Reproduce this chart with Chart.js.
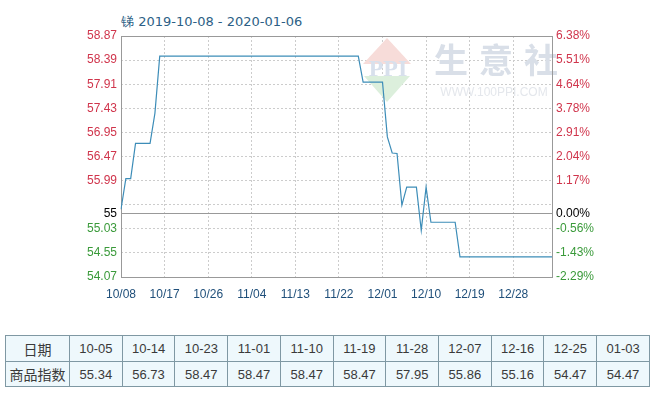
<!DOCTYPE html>
<html>
<head>
<meta charset="utf-8">
<script src="https://cdn.jsdelivr.net/npm/chart.js@4.4.1/dist/chart.umd.min.js"></script>
<style>
  body { margin: 0; background: #fff; width: 659px; height: 398px; position: relative; overflow: hidden; }
  #title { position: absolute; left: 121px; top: 13px; font: 13px "DejaVu Sans", sans-serif; color: #2d5f86; white-space: nowrap; }
  #myChart { position: absolute; left: 0; top: 0; }
  #tbl { position: absolute; left: 5px; top: 335px; width: 645px; border-collapse: collapse; border: 1px solid #333; background: #eef8fc; table-layout: fixed; }
  #tbl td { border: 1px solid #7f98a3; text-align: center; color: #3a3a3a; font: 13px "Liberation Sans", sans-serif; padding: 0; }
  #tbl tr:first-child td { height: 25px; }
  #tbl tr:last-child td { height: 24px; }
  #tbl td.head { font: 14px "Noto Sans CJK SC", sans-serif; width: 63px; }
</style>
</head>
<body>
<div id="title">锑 2019-10-08 - 2020-01-06</div>
<canvas id="myChart" width="659" height="320"></canvas>
<table id="tbl">
  <tr id="row-dates"><td class="head">日期</td></tr>
  <tr id="row-values"><td class="head">商品指数</td></tr>
</table>
<script>
// daily categories 10/08 - 01/05
const days = [
  "10/08","10/09","10/10","10/11","10/12","10/13","10/14","10/15","10/16","10/17","10/18","10/19",
  "10/20","10/21","10/22","10/23","10/24","10/25","10/26","10/27","10/28","10/29","10/30","10/31",
  "11/01","11/02","11/03","11/04","11/05","11/06","11/07","11/08","11/09","11/10","11/11","11/12",
  "11/13","11/14","11/15","11/16","11/17","11/18","11/19","11/20","11/21","11/22","11/23","11/24",
  "11/25","11/26","11/27","11/28","11/29","11/30",
  "12/01","12/02","12/03","12/04","12/05","12/06","12/07","12/08","12/09","12/10","12/11","12/12",
  "12/13","12/14","12/15","12/16","12/17","12/18","12/19","12/20","12/21","12/22","12/23","12/24",
  "12/25","12/26","12/27","12/28","12/29","12/30","12/31",
  "01/01","01/02","01/03","01/04","01/05"
];

// index values
const octValues = [55.42, 56.03, 56.03, 56.73, 56.73, 56.73, 56.73, 57.33, 58.47, 58.47, 58.47, 58.47,
  58.47, 58.47, 58.47, 58.47, 58.47, 58.47, 58.47, 58.47, 58.47, 58.47, 58.47, 58.47];
const novValues = [58.47, 58.47, 58.47, 58.47, 58.47, 58.47, 58.47, 58.47, 58.47, 58.47, 58.47, 58.47,
  58.47, 58.47, 58.47, 58.47, 58.47, 58.47, 58.47, 58.47, 58.47, 58.47, 58.47, 58.47, 58.47, 58.47,
  57.95, 57.95, 57.95, 57.95];
const decValues = [57.95, 56.86, 56.54, 56.53, 55.50, 55.86, 55.86, 55.86, 55.00, 55.86, 55.16, 55.16,
  55.16, 55.16, 55.16, 55.16, 54.47, 54.47, 54.47, 54.47, 54.47, 54.47, 54.47, 54.47, 54.47, 54.47,
  54.47, 54.47, 54.47, 54.47, 54.47];
const janValues = [54.47, 54.47, 54.47, 54.47, 54.47];
const values = octValues.concat(novValues, decValues, janValues);

// y axis ticks, base value for the % axis
const tickVals = [54.07, 54.55, 55.03, 55.34, 55.51, 55.99, 56.47, 56.95, 57.43, 57.91, 58.39, 58.87];
const baseValue = 55.34;
const hiddenTick = 55.51;

// table under the chart
const tableDates = ["10-05", "10-14", "10-23", "11-01", "11-10", "11-19", "11-28", "12-07", "12-16", "12-25", "01-03"];
const tableValues = ["55.34", "56.73", "58.47", "58.47", "58.47", "58.47", "57.95", "55.86", "55.16", "54.47", "54.47"];

let rowDates = document.getElementById("row-dates");
let rowValues = document.getElementById("row-values");
for (let i = 0; i < tableDates.length; i++) {
  let td1 = document.createElement("td");
  let td2 = document.createElement("td");
  td1.textContent = tableDates[i];
  td2.textContent = tableValues[i];
  rowDates.appendChild(td1);
  rowValues.appendChild(td2);
}

function labelColor(v) {
  if (v === baseValue) return "#000";
  return v > baseValue ? "#d0354c" : "#3a9a3a";
}

function setTicks(scale) {
  scale.ticks = tickVals.map((v) => ({ value: v }));
}

// watermark + frame
const backPlugin = {
  id: "back",
  beforeDatasetsDraw(chart) {
    const c = chart.ctx;
    const a = chart.chartArea;
    c.save();
    // diamond logo
    c.fillStyle = "#f7dcd9";
    c.beginPath();
    c.moveTo(387, 38);
    c.lineTo(411, 64);
    c.lineTo(363, 64);
    c.closePath();
    c.fill();
    c.fillStyle = "#dcefdc";
    c.beginPath();
    c.moveTo(364, 76);
    c.lineTo(410, 76);
    c.lineTo(387, 102);
    c.closePath();
    c.fill();
    c.fillStyle = "#d8e0ec";
    c.font = "bold 24px 'Liberation Serif', serif";
    c.textAlign = "center";
    c.textBaseline = "middle";
    c.fillText("PPI", 388, 70);
    // 生意社
    c.fillStyle = "#d9dfe8";
    c.font = "bold 34px 'Noto Sans CJK SC', sans-serif";
    c.fillText("生", 451, 60);
    c.fillText("意", 496, 60);
    c.fillText("社", 541, 60);
    c.fillStyle = "#e4e7ec";
    c.font = "12px 'Liberation Sans', sans-serif";
    c.fillText("WWW.100PPI.COM", 494, 93);
    // frame
    c.strokeStyle = "#999";
    c.lineWidth = 1;
    c.strokeRect(Math.round(a.left) + 0.5, Math.round(a.top) + 0.5, Math.round(a.right - a.left), Math.round(a.bottom - a.top));
    c.restore();
  },
};

new Chart("myChart", {
  type: "line",
  data: {
    labels: days,
    datasets: [
      {
        data: values,
        borderColor: "#3d8db8",
        borderWidth: 1.2,
        pointRadius: 0,
        tension: 0,
        fill: false,
      },
    ],
  },
  options: {
    responsive: false,
    animation: false,
    layout: { padding: { top: 36, left: 0, right: 0, bottom: 0 } },
    plugins: { legend: { display: false }, tooltip: { enabled: false } },
    scales: {
      x: {
        afterFit: (s) => { s.height = 43; },
        grid: { color: "#cccccc", drawTicks: false },
        border: { display: false, dash: [2, 2] },
        ticks: {
          autoSkip: false,
          maxRotation: 0,
          padding: 10,
          color: "#1f4f7a",
          font: { family: "Liberation Sans", size: 12 },
          callback: function (val, index) {
            return index % 9 === 0 ? days[index] : null;
          },
        },
      },
      y: {
        min: 54.07,
        max: 58.87,
        afterBuildTicks: setTicks,
        afterFit: (s) => { s.width = 121; },
        grid: {
          drawTicks: false,
          color: (ctx) => (ctx.tick && ctx.tick.value === baseValue ? "#999" : "#cccccc"),
        },
        border: {
          display: false,
          dash: (ctx) => (ctx.tick && ctx.tick.value === baseValue ? [] : [2, 2]),
        },
        ticks: {
          padding: 4,
          font: { family: "Liberation Sans", size: 12 },
          color: (ctx) => labelColor(ctx.tick.value),
          callback: function (v) {
            if (v === hiddenTick) return "";
            if (v === baseValue) return "55";
            return v.toFixed(2);
          },
        },
      },
      y2: {
        position: "right",
        min: 54.07,
        max: 58.87,
        afterBuildTicks: setTicks,
        afterFit: (s) => { s.width = 107; },
        grid: { drawOnChartArea: false, drawTicks: false },
        border: { display: false },
        ticks: {
          padding: 4,
          font: { family: "Liberation Sans", size: 12 },
          color: (ctx) => labelColor(ctx.tick.value),
          callback: function (v) {
            if (v === hiddenTick) return "";
            return ((v / baseValue - 1) * 100).toFixed(2) + "%";
          },
        },
      },
    },
  },
  plugins: [backPlugin],
});
</script>
</body>
</html>
